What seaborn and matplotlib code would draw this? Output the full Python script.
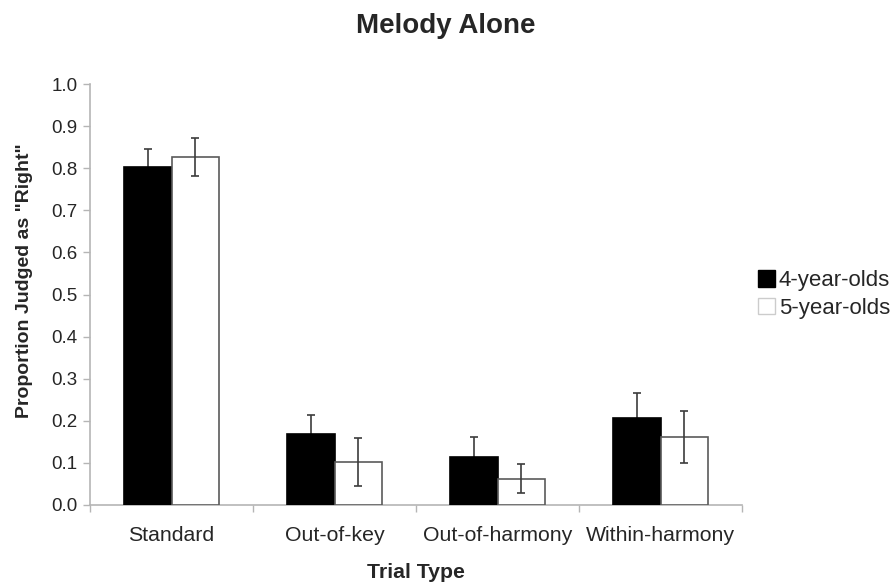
import matplotlib
matplotlib.use("Agg")
import matplotlib.pyplot as plt
import seaborn as sns
import pandas as pd
import numpy as np

trial_types = ["Standard", "Out-of-key", "Out-of-harmony", "Within-harmony"]
groups = ["4-year-olds", "5-year-olds"]
means_4yo = [0.803, 0.169, 0.114, 0.207]
means_5yo = [0.828, 0.102, 0.062, 0.161]
err_4yo = [0.043, 0.045, 0.047, 0.060]
err_5yo = [0.045, 0.058, 0.034, 0.062]
y_ticks = [0.0, 0.1, 0.2, 0.3, 0.4, 0.5, 0.6, 0.7, 0.8, 0.9, 1.0]

df = pd.DataFrame({
    "Trial Type": trial_types * 2,
    "Group": [groups[0]] * 4 + [groups[1]] * 4,
    "Proportion": means_4yo + means_5yo,
})

sns.set_theme(style="white")
plt.rcParams["font.family"] = ["Liberation Sans", "DejaVu Sans"]

fig = plt.figure(figsize=(8.91, 5.85), dpi=100)
ax = fig.add_axes([0.101, 0.137, 0.732, 0.719])

sns.barplot(data=df, x="Trial Type", y="Proportion", hue="Group",
            order=trial_types, hue_order=groups,
            palette={groups[0]: "black", groups[1]: "white"},
            errorbar=None, width=0.58, gap=0, dodge=True,
            edgecolor="#5a5a5a", linewidth=1.2, legend=False, ax=ax,
            zorder=3)

bar_containers = list(ax.containers)
# (values, errors, bar outline, error-bar layer)
group_vals = [(means_4yo, err_4yo, "black", 2), (means_5yo, err_5yo, "#5a5a5a", 4)]

# Error bars at each bar centre; the black bars hide their lower halves
for container, (vals, errs, edge, z) in zip(bar_containers, group_vals):
    for bar, v, e in zip(container, vals, errs):
        bar.set_edgecolor(edge)
        cx = bar.get_x() + bar.get_width() / 2
        ax.errorbar(cx, v, yerr=e, fmt="none", ecolor="#3c3c3c",
                    elinewidth=1.2, capsize=3.2, capthick=1.2, zorder=z)

ax.set_xlim(-0.5, 3.5)
ax.set_ylim(0, 1.0)
ax.set_yticks(y_ticks)
ax.set_yticklabels([f"{t:.1f}" for t in y_ticks], fontsize=13.5)
ax.set_xticks(range(4))
ax.set_xticklabels(trial_types, fontsize=15.3)
ax.set_xticks(np.arange(-0.5, 4.0, 1.0), minor=True)
ax.tick_params(axis="x", which="major", length=0, pad=15)
ax.tick_params(axis="x", which="minor", bottom=True, length=5, color="#b5b5b5", width=1)
ax.tick_params(axis="y", which="major", left=True, length=5, color="#b5b5b5", width=1, pad=4)

for side in ["top", "right"]:
    ax.spines[side].set_visible(False)
for side in ["left", "bottom"]:
    ax.spines[side].set_color("#b5b5b5")
    ax.spines[side].set_linewidth(1.2)

ax.set_xlabel("Trial Type", fontsize=15.3, fontweight="bold", labelpad=13)
ax.set_ylabel('Proportion Judged as "Right"', fontsize=14, fontweight="bold")
ax.yaxis.set_label_coords(-0.0874, 0.533)
fig.suptitle("Melody Alone", fontsize=20, fontweight="bold", y=0.977, x=0.5)

handles = [
    plt.Rectangle((0, 0), 1, 1, facecolor="black", edgecolor="black"),
    plt.Rectangle((0, 0), 1, 1, facecolor="white", edgecolor="#cccccc"),
]
ax.legend(handles, groups, loc="center left", bbox_to_anchor=(1.018, 0.5),
          frameon=False, fontsize=16, handlelength=0.77, handleheight=0.77,
          handletextpad=0.14, labelspacing=0.3, borderaxespad=0.0,
          borderpad=0.2)

fig.savefig("out.png", dpi=100, facecolor="white")
